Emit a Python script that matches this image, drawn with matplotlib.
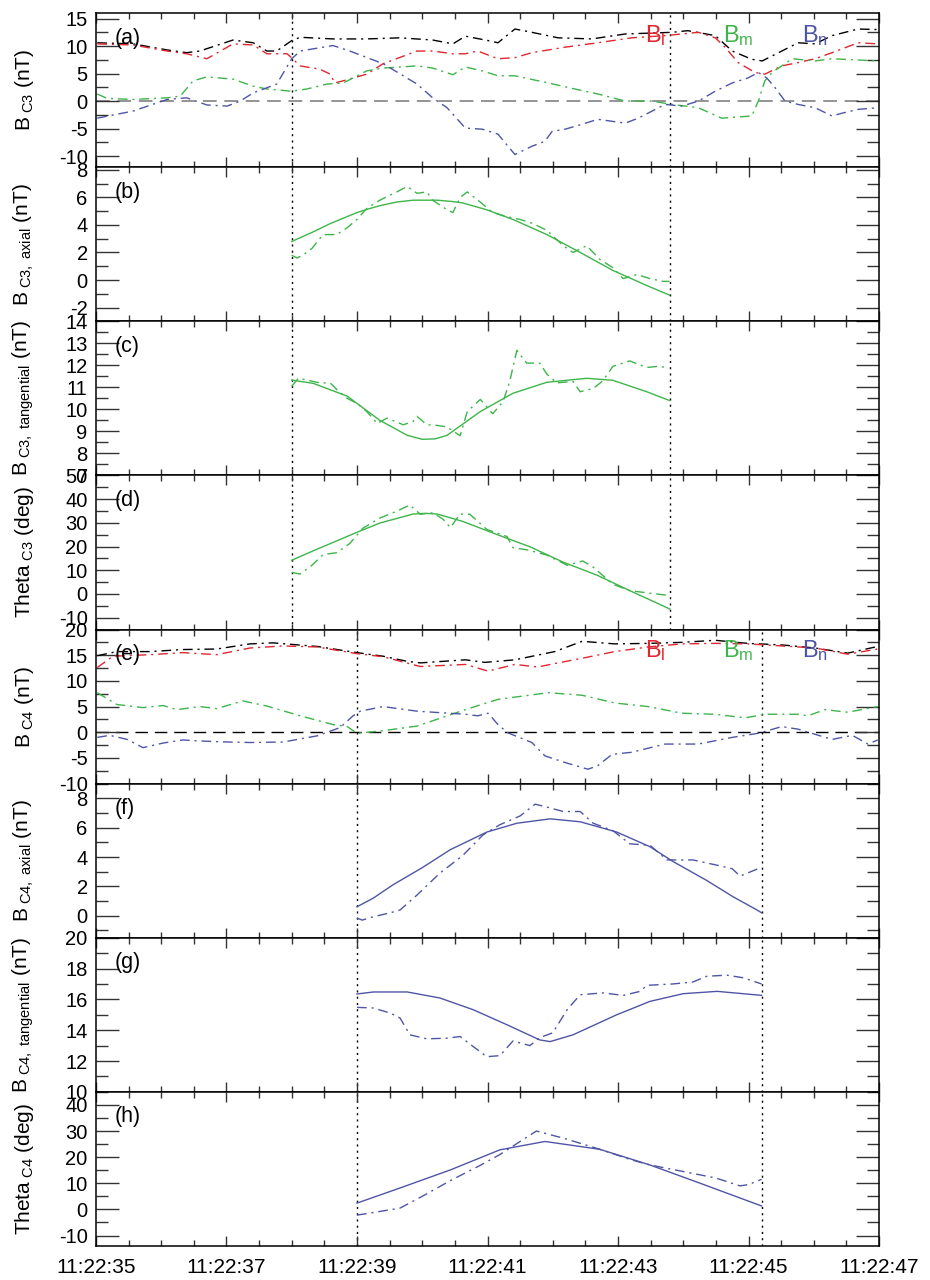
import matplotlib
matplotlib.use('Agg')
import matplotlib.pyplot as plt
from matplotlib.ticker import MultipleLocator, FixedLocator, FixedFormatter

plt.rcParams['font.family'] = ['Liberation Sans', 'DejaVu Sans']
plt.rcParams['mathtext.fontset'] = 'custom'
plt.rcParams['mathtext.rm'] = 'Liberation Sans'
plt.rcParams['mathtext.it'] = 'Liberation Sans:italic'
plt.rcParams['mathtext.bf'] = 'Liberation Sans:bold'
plt.rcParams['axes.unicode_minus'] = False

# ---------------- data (time in seconds after 11:22:35) ----------------
tick_secs = [0, 2, 4, 6, 8, 10, 12]
tick_labels = ['11:22:35', '11:22:37', '11:22:39', '11:22:41', '11:22:43', '11:22:45', '11:22:47']

c3_bounds = [3.00, 8.79]
c4_bounds = [4.00, 10.20]

# panel (a) C3 LMN
a_bt_t = [0.02, 0.57, 1.09, 1.39, 1.59, 2.10, 2.41, 2.62, 2.77, 3.00, 3.13, 3.63, 4.15, 4.66, 5.16, 5.47, 5.66,
          6.01, 6.16, 6.42, 6.68, 7.08, 7.60, 8.11, 8.83, 9.07, 9.49, 9.75, 10.05, 10.21, 10.41, 10.76, 11.02,
          11.28, 11.68, 11.98]
a_bt_v = [10.6, 10.4, 9.3, 8.8, 9.1, 11.1, 10.6, 9.1, 9.1, 11.0, 11.6, 11.3, 11.3, 11.5, 11.1, 10.4, 11.8,
          11.0, 10.6, 13.1, 12.5, 11.5, 11.3, 12.2, 12.5, 12.8, 11.9, 9.1, 7.6, 7.3, 8.5, 10.6, 10.4,
          11.9, 13.1, 13.0]
a_bl_t = [0.02, 0.57, 1.09, 1.39, 1.70, 2.10, 2.41, 2.62, 2.93, 3.13, 3.43, 3.59, 3.66, 3.79, 4.15, 4.40, 4.92,
          5.16, 5.47, 5.66, 5.85, 5.96, 6.16, 6.42, 6.68, 7.19, 7.69, 8.21, 8.72, 9.23, 9.49, 9.64, 9.84, 10.10,
          10.25, 10.51, 10.76, 11.02, 11.28, 11.68, 11.98]
a_bl_v = [10.4, 10.2, 9.1, 8.6, 7.7, 10.4, 10.2, 8.6, 8.6, 6.4, 5.8, 4.9, 3.3, 3.7, 4.9, 6.8, 9.1,
          9.1, 8.6, 8.6, 9.1, 8.6, 7.7, 7.9, 8.8, 9.8, 10.6, 11.5, 11.9, 12.5, 11.5, 9.8, 7.0, 5.2,
          4.9, 6.4, 7.0, 7.7, 8.8, 10.6, 10.4]
a_bm_t = [0.02, 0.17, 0.57, 1.09, 1.29, 1.49, 1.70, 2.10, 2.41, 2.62, 3.00, 3.23, 3.54, 3.79, 4.15, 4.40, 4.92,
          5.16, 5.47, 5.66, 5.92, 6.16, 6.42, 6.93, 7.34, 7.69, 8.11, 8.52, 8.83, 9.23, 9.59, 10.05, 10.15,
          10.25, 10.36, 10.67, 11.02, 11.28, 11.98]
a_bm_v = [1.3, 0.5, 0.3, 0.6, 0.9, 3.7, 4.4, 4.0, 2.7, 2.2, 1.8, 2.2, 3.1, 3.3, 5.5, 6.0, 6.4,
          6.0, 4.8, 6.2, 5.5, 4.6, 4.6, 3.3, 2.2, 1.3, 0.0, 0.0, -0.6, -1.2, -3.1, -2.7, 0.0,
          3.7, 5.2, 7.7, 7.3, 7.7, 7.3]
a_bn_t = [0.02, 0.57, 1.09, 1.39, 1.70, 2.01, 2.21, 2.41, 2.77, 3.00, 3.13, 3.63, 3.89, 4.40, 4.92, 5.16, 5.38,
          5.66, 5.92, 6.16, 6.42, 6.68, 6.88, 6.99, 7.19, 7.45, 7.69, 8.11, 8.31, 8.72, 8.98, 9.23, 9.49, 9.75,
          9.99, 10.15, 10.28, 10.41, 10.56, 10.76, 11.02, 11.28, 11.43, 11.68, 11.98]
a_bn_v = [-3.1, -1.8, 0.3, 0.6, -0.7, -0.9, 0.0, 1.5, 3.1, 7.7, 9.1, 10.1, 9.1, 6.8, 3.1, 0.6, -1.2,
          -4.9, -5.1, -6.0, -9.7, -8.2, -7.3, -5.5, -5.1, -4.2, -3.3, -4.0, -3.1, -0.6, -0.9, 0.0, 1.8, 3.3,
          4.2, 5.2, 4.2, 2.4, 0.0, -0.6, -1.2, -2.7, -2.2, -1.5, -1.2]

# panel (b) C3 axial: observed / fitted
b_obs_t = [3.00, 3.08, 3.17, 3.31, 3.48, 3.69, 3.85, 4.00, 4.15, 4.35, 4.61, 4.77, 4.92, 5.07, 5.16, 5.38, 5.47,
           5.58, 5.69, 5.88, 6.08, 6.30, 6.50, 6.70, 6.91, 7.16, 7.31, 7.52, 7.62, 7.72, 7.92, 8.08, 8.29, 8.49,
           8.69, 8.79]
b_obs_v = [1.8, 1.6, 1.8, 2.3, 3.3, 3.3, 3.8, 4.4, 5.2, 5.8, 6.4, 6.8, 6.3, 6.4, 5.8, 5.1, 4.9,
           6.0, 6.4, 5.7, 4.9, 4.6, 4.4, 4.1, 3.6, 2.5, 2.0, 2.5, 2.0, 1.5, 0.9, 0.1, 0.4, 0.1,
           -0.1, -0.1]
b_fit_t = [3.00, 3.33, 3.59, 4.00, 4.17, 4.35, 4.61, 4.86, 5.23, 5.47, 5.62, 5.99, 6.39, 6.91, 7.42, 7.92,
           8.44, 8.79]
b_fit_v = [2.8, 3.5, 4.1, 4.9, 5.16, 5.4, 5.67, 5.8, 5.8, 5.7, 5.6, 5.1, 4.4, 3.3, 2.0, 0.7, -0.4, -1.1]

# panel (c) C3 tangential
c_obs_t = [3.00, 3.10, 3.28, 3.43, 3.59, 3.69, 3.85, 4.00, 4.15, 4.31, 4.46, 4.71, 4.86, 4.92, 5.07, 5.23, 5.38,
           5.58, 5.69, 5.89, 6.08, 6.24, 6.34, 6.45, 6.60, 6.80, 6.91, 7.06, 7.31, 7.42, 7.62, 7.77, 7.92, 8.18,
           8.44, 8.60, 8.77]
c_obs_v = [11.05, 11.41, 11.3, 11.2, 11.2, 10.9, 10.5, 10.27, 9.9, 9.36, 9.6, 9.3, 9.45, 9.68, 9.3, 9.27, 9.2,
           8.8, 9.9, 10.45, 9.8, 10.36, 11.27, 12.68, 12.1, 12.1, 11.6, 11.2, 11.27, 10.8, 10.95, 11.3, 11.95, 12.2,
           11.9, 11.95, 11.9]
c_fit_t = [3.00, 3.33, 3.85, 4.35, 4.77, 5.00, 5.20, 5.38, 5.89, 6.39, 6.91, 7.52, 7.92, 8.44, 8.79]
c_fit_v = [11.33, 11.18, 10.6, 9.5, 8.82, 8.64, 8.66, 8.82, 9.9, 10.73, 11.23, 11.41, 11.32, 10.8, 10.4]

# panel (d) C3 theta
d_obs_t = [3.00, 3.13, 3.31, 3.48, 3.69, 3.89, 4.09, 4.35, 4.61, 4.81, 4.97, 5.16, 5.32, 5.43, 5.58, 5.73, 5.99,
           6.30, 6.39, 6.61, 6.91, 7.22, 7.46, 7.62, 7.92, 8.18, 8.49, 8.77]
d_obs_v = [9.1, 8.4, 12.1, 16.6, 17.4, 21.3, 27.7, 32.0, 34.9, 37.5, 33.6, 34.2, 31.5, 28.0, 33.7, 33.6, 27.2,
           24.2, 19.5, 18.6, 16.4, 12.1, 13.9, 11.3, 4.1, 1.4, 0.3, -0.6]
d_fit_t = [3.00, 3.33, 4.00, 4.35, 4.86, 5.05, 5.23, 5.62, 6.15, 6.65, 7.16, 7.68, 8.18, 8.79]
d_fit_v = [14.2, 18.2, 26.0, 29.9, 33.7, 34.0, 33.7, 30.6, 25.0, 19.9, 13.4, 7.9, 1.4, -6.3]

# panel (e) C4 LMN
e_bt_t = [0.02, 0.32, 0.83, 1.33, 1.85, 2.36, 2.71, 3.39, 4.00, 4.40, 4.77, 4.97, 5.66, 5.96, 6.42, 7.03, 7.45,
          7.95, 8.46, 8.98, 9.49, 9.99, 10.51, 11.02, 11.52, 11.98]
e_bt_v = [14.9, 15.7, 15.7, 16.1, 16.2, 17.2, 17.4, 16.7, 15.5, 14.8, 13.8, 13.5, 14.1, 13.6, 14.1, 15.7, 17.7,
          17.2, 17.3, 17.5, 17.9, 17.3, 17.0, 16.4, 15.4, 16.7]
e_bl_t = [0.02, 0.26, 0.83, 1.33, 1.85, 2.36, 2.87, 3.39, 4.00, 4.40, 4.97, 5.66, 6.01, 6.42, 6.77, 7.08, 7.45,
          7.95, 8.46, 8.98, 9.49, 9.99, 10.51, 11.02, 11.52, 11.98]
e_bl_v = [12.6, 14.8, 15.1, 15.5, 15.1, 16.4, 16.8, 16.6, 15.3, 14.7, 12.8, 13.2, 11.9, 13.2, 12.7, 13.5, 14.4,
          15.7, 16.6, 17.2, 17.3, 17.2, 16.8, 16.4, 15.2, 16.2]
e_bm_t = [0.02, 0.32, 0.72, 1.03, 1.24, 1.59, 1.85, 2.25, 2.62, 3.13, 3.63, 3.85, 4.00, 4.40, 4.92, 5.66, 6.16,
          6.93, 7.45, 7.95, 8.46, 8.98, 9.49, 9.95, 10.25, 10.76, 10.91, 11.17, 11.52, 11.98]
e_bm_v = [7.7, 5.4, 4.8, 5.2, 4.4, 5.0, 4.6, 6.1, 5.1, 3.2, 1.5, 1.1, -0.2, 0.3, 1.2, 4.4, 6.4,
          7.7, 7.2, 5.7, 5.0, 3.7, 3.5, 2.8, 3.5, 3.5, 3.2, 4.4, 3.9, 5.0]
e_bn_t = [0.02, 0.21, 0.48, 0.72, 1.03, 1.33, 1.59, 2.01, 2.36, 2.87, 3.39, 3.74, 3.94, 4.05, 4.40, 4.92, 5.66,
          5.85, 6.01, 6.16, 6.31, 6.68, 6.88, 7.19, 7.54, 7.69, 7.91, 8.21, 8.72, 9.23, 9.75, 10.15, 10.51,
          10.76, 11.28, 11.59, 11.83, 11.98]
e_bn_v = [-1.0, -0.6, -1.4, -3.0, -2.1, -1.5, -1.7, -1.9, -2.0, -1.9, -0.7, 0.9, 3.2, 4.1, 5.0, 4.1, 3.5,
          3.2, 3.7, 1.5, -0.1, -2.0, -4.6, -5.9, -7.2, -6.5, -4.3, -3.9, -2.3, -2.3, -1.0, -0.2, 1.1,
          0.6, -1.4, -0.6, -2.3, -1.5]

# panel (f) C4 axial
f_obs_t = [4.00, 4.08, 4.25, 4.51, 4.66, 4.92, 5.27, 5.62, 5.93, 6.19, 6.50, 6.73, 6.91, 7.16, 7.42, 7.62, 7.92,
           8.18, 8.49, 8.75, 9.15, 9.56, 9.75, 9.87, 10.20]
f_obs_v = [-0.16, -0.3, -0.07, 0.2, 0.39, 1.41, 2.9, 4.1, 5.5, 6.2, 6.8, 7.6, 7.4, 7.1, 7.1, 6.3, 5.8,
           4.9, 4.8, 3.8, 3.8, 3.4, 3.2, 2.7, 3.3]
f_fit_t = [4.00, 4.25, 4.55, 5.01, 5.43, 5.99, 6.45, 6.96, 7.42, 7.98, 8.49, 8.84, 9.36, 9.76, 10.13, 10.20]
f_fit_v = [0.61, 1.2, 2.1, 3.3, 4.5, 5.7, 6.3, 6.6, 6.4, 5.7, 4.7, 3.7, 2.4, 1.3, 0.39, 0.2]

# panel (g) C4 tangential
g_obs_t = [4.00, 4.25, 4.51, 4.66, 4.81, 5.07, 5.38, 5.58, 5.78, 5.99, 6.19, 6.39, 6.65, 6.80, 7.00, 7.22, 7.42,
           7.77, 8.08, 8.34, 8.44, 8.84, 9.15, 9.36, 9.67, 9.92, 10.20]
g_obs_v = [15.48, 15.44, 15.11, 14.79, 13.7, 13.44, 13.48, 13.59, 12.94, 12.28, 12.35, 13.3, 13.0, 13.52, 13.83,
           15.33, 16.3, 16.42, 16.26, 16.52, 16.91, 17.0, 17.13, 17.5, 17.57, 17.4, 17.0]
g_fit_t = [4.00, 4.25, 4.77, 5.27, 5.78, 6.30, 6.80, 6.96, 7.31, 7.98, 8.49, 9.00, 9.52, 10.20]
g_fit_v = [16.35, 16.48, 16.48, 16.09, 15.33, 14.35, 13.37, 13.26, 13.7, 15.0, 15.87, 16.37, 16.52, 16.26]

# panel (h) C4 theta
h_obs_t = [4.00, 4.30, 4.66, 5.00, 5.43, 5.90, 6.19, 6.50, 6.75, 6.90, 7.20, 7.72, 8.20, 8.49, 9.00, 9.50, 9.87,
           10.00, 10.20]
h_obs_v = [-2.2, -1.0, 0.5, 5.0, 11.0, 17.0, 21.0, 26.0, 30.0, 29.0, 27.0, 23.0, 19.0, 17.0, 14.5, 12.0, 9.0,
           9.5, 11.5]
h_fit_t = [4.00, 4.66, 5.43, 6.19, 6.88, 7.72, 8.49, 9.26, 10.20]
h_fit_v = [2.4, 8.2, 15.1, 22.8, 26.0, 23.0, 17.0, 10.0, 1.3]

# ---------------- styling ----------------
RED = '#e0262f'
GREEN = '#3db54a'
BLUE = '#4f55a6'
DASHDOT = (0, (7, 3.5, 1.5, 3.5))

fig, axes = plt.subplots(8, 1, figsize=(9.3, 12.8), dpi=100, sharex=True,
                         gridspec_kw={'hspace': 0})
fig.subplots_adjust(left=0.1032, right=0.9452, top=0.9898, bottom=0.0266)

ylims = [(-12, 16), (-3, 8.2), (7, 14), (-15, 50), (-10, 20), (-1.5, 9), (10, 20), (-14, 45)]
ymaj = [5, 2, 1, 10, 5, 2, 2, 10]
ymin = [2.5, 1, 0.5, 5, 2.5, 1, 1, 5]
ylabels = [r'B$_{\rm\ C3}$ (nT)', r'B$_{\rm\ C3,\ axial}$ (nT)', r'B$_{\rm\ C3,\ tangential}$ (nT)',
           r'Theta$_{\rm\ C3}$ (deg)', r'B$_{\rm\ C4}$ (nT)', r'B$_{\rm\ C4,\ axial}$ (nT)',
           r'B$_{\rm\ C4,\ tangential}$ (nT)', r'Theta$_{\rm\ C4}$ (deg)']
panel_letters = ['(a)', '(b)', '(c)', '(d)', '(e)', '(f)', '(g)', '(h)']

for i, ax in enumerate(axes):
    ax.set_xlim(0, 12)
    ax.set_ylim(*ylims[i])
    ax.xaxis.set_major_locator(FixedLocator(tick_secs))
    ax.xaxis.set_minor_locator(MultipleLocator(0.5))
    ax.yaxis.set_major_locator(MultipleLocator(ymaj[i]))
    ax.yaxis.set_minor_locator(MultipleLocator(ymin[i]))
    ax.tick_params(axis='y', which='major', direction='in', length=16.5, width=1.0,
                   left=True, right=True, labelsize=14.5, pad=6, color='#333333')
    ax.tick_params(axis='y', which='minor', direction='in', length=8.5, width=1.0,
                   left=True, right=True, color='#333333')
    ax.tick_params(axis='x', which='major', direction='in', length=7, width=1.0,
                   top=True, bottom=True, labelsize=15, pad=9, color='#333333')
    ax.tick_params(axis='x', which='minor', direction='in', length=4, width=1.0,
                   top=True, bottom=True, color='#333333')
    for sp in ax.spines.values():
        sp.set_linewidth(1.1)
    ax.set_ylabel(ylabels[i], fontsize=15)
    ax.yaxis.set_label_coords(-0.076, 0.5)
    ax.text(0.024, 0.905, panel_letters[i], transform=ax.transAxes, fontsize=15.5,
            ha='left', va='top')

axes[-1].xaxis.set_major_formatter(FixedFormatter(tick_labels))

# zero lines
axes[0].axhline(0, color='#777777', lw=1.1, ls=(0, (9, 5)), zorder=1)
axes[4].axhline(0, color='black', lw=1.0, ls=(0, (9, 5)), zorder=1)

# boundary lines
for ax in axes[:4]:
    for xb in c3_bounds:
        ax.axvline(xb, color='black', lw=1.0, ls=(0, (1.5, 3)), zorder=1)
for ax in axes[4:]:
    for xb in c4_bounds:
        ax.axvline(xb, color='black', lw=1.0, ls=(0, (1.5, 3)), zorder=1)

lw = 1.0
# (a)
ax = axes[0]
ax.plot(a_bt_t, a_bt_v, color='black', lw=lw, ls=DASHDOT)
ax.plot(a_bl_t, a_bl_v, color=RED, lw=lw, ls=DASHDOT)
ax.plot(a_bm_t, a_bm_v, color=GREEN, lw=lw, ls=DASHDOT)
ax.plot(a_bn_t, a_bn_v, color=BLUE, lw=lw, ls=DASHDOT)
# (b)-(d)
axes[1].plot(b_obs_t, b_obs_v, color=GREEN, lw=lw, ls=DASHDOT)
axes[1].plot(b_fit_t, b_fit_v, color=GREEN, lw=lw)
axes[2].plot(c_obs_t, c_obs_v, color=GREEN, lw=lw, ls=DASHDOT)
axes[2].plot(c_fit_t, c_fit_v, color=GREEN, lw=lw)
axes[3].plot(d_obs_t, d_obs_v, color=GREEN, lw=lw, ls=DASHDOT)
axes[3].plot(d_fit_t, d_fit_v, color=GREEN, lw=lw)
# (e)
ax = axes[4]
ax.plot(e_bt_t, e_bt_v, color='black', lw=lw, ls=DASHDOT)
ax.plot(e_bl_t, e_bl_v, color=RED, lw=lw, ls=DASHDOT)
ax.plot(e_bm_t, e_bm_v, color=GREEN, lw=lw, ls=DASHDOT)
ax.plot(e_bn_t, e_bn_v, color=BLUE, lw=lw, ls=DASHDOT)
# (f)-(h)
axes[5].plot(f_obs_t, f_obs_v, color=BLUE, lw=lw, ls=DASHDOT)
axes[5].plot(f_fit_t, f_fit_v, color=BLUE, lw=lw)
axes[6].plot(g_obs_t, g_obs_v, color=BLUE, lw=lw, ls=DASHDOT)
axes[6].plot(g_fit_t, g_fit_v, color=BLUE, lw=lw)
axes[7].plot(h_obs_t, h_obs_v, color=BLUE, lw=lw, ls=DASHDOT)
axes[7].plot(h_fit_t, h_fit_v, color=BLUE, lw=lw)

# component labels
for ax, yb in ((axes[0], 0.81), (axes[4], 0.82)):
    ax.text(0.701, yb, r'B$_{\rm l}$', color=RED, fontsize=17, transform=ax.transAxes,
            ha='left', va='baseline')
    ax.text(0.801, yb, r'B$_{\rm m}$', color=GREEN, fontsize=17, transform=ax.transAxes,
            ha='left', va='baseline')
    ax.text(0.902, yb, r'B$_{\rm n}$', color=BLUE, fontsize=17, transform=ax.transAxes,
            ha='left', va='baseline')

fig.savefig('out.png', dpi=100)
